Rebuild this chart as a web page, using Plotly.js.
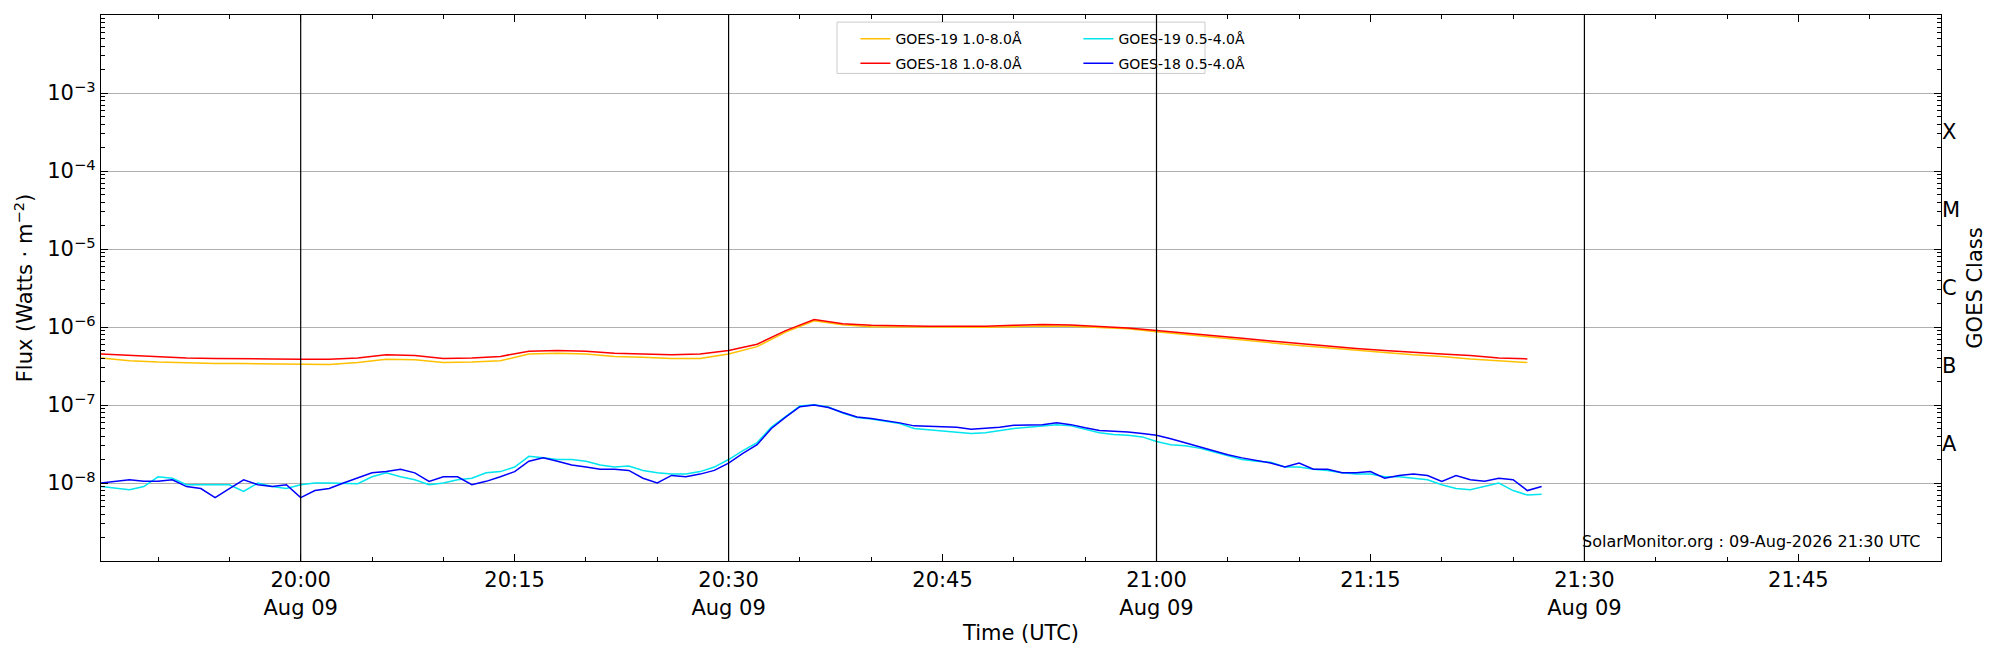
<!DOCTYPE html>
<html>
<head>
<meta charset="utf-8">
<script src="https://cdn.plot.ly/plotly-3.0.1.min.js"></script>
<style>body{margin:0;background:#fff}#plot{width:2000px;height:650px}</style>
</head>
<body>
<div id="plot"></div>
<script>
// 1-8 A channels, 2-minute samples from 19:46 (x 1e-7 W/m^2)
const goes18Long = [4.5,4.3,4.1,4.0,3.95,3.95,3.9,
  3.85,3.85,4.0,4.4,4.3,3.95,4.0,4.2,4.9,5.0,
  4.9,4.6,4.5,4.4,4.5,5.0,6.0,9.0,12.5,11.0,
  10.5,10.3,10.2,10.2,10.2,10.5,10.8,10.6,10.1,9.7,
  9.0,8.4,7.8,7.2,6.6,6.1,5.7,5.3,5.0,4.7,4.5,4.3,4.0,3.9];
const goes19Long = [4.0,3.7,3.55,3.45,3.4,3.4,3.35,
  3.3,3.3,3.5,3.85,3.8,3.5,3.55,3.7,4.5,4.6,
  4.5,4.2,4.1,3.95,3.95,4.5,5.6,8.6,12.0,10.7,
  10.1,10.0,9.9,9.9,9.9,10.1,10.3,10.2,9.8,9.5,
  8.7,8.0,7.4,6.8,6.2,5.8,5.4,5.0,4.7,4.4,4.2,3.9,3.7,3.5];
// 0.5-4 A channels, 1-minute samples from 19:46 (x 1e-9 W/m^2)
const goes18Short = [10,10.5,11,10.5,10.5,11,9,8.5,6.5,8.5,11,9.5,9,9.5,
  6.5,8,8.5,10,11.5,13.5,14,15,13.5,10.5,12,12,9.5,10.5,12,14,19,21,19,17,16,15,15,14.5,11.5,10,12.5,12,13,14.5,
  18,24,31,50,70,95,100,93,80,70,67,63,59,54,53,52,52,49,50,52,55,56,56,59,56,51,47,46,45,43,
  41,37,33,29,26,23,21,19.5,18,16,18,15,15,13.5,13.5,14,11.5,12.5,13,12.5,10.5,12.5,11,10.5,11.5,11,8,9];
const goes19Short = [9,8.5,8.2,9,12,11.5,9.5,9.5,9.5,9.5,7.8,10,9,8.5,
  9.5,10,10,10,9.8,12,13.5,12,11,9.5,10,11,11.5,13.5,14,16,22,21,20,20,19,17,16,16.5,14.5,13.5,13,13,14,16,
  20,26,33,52,72,97,101,94,79,69,66,62,58,50,48,47,45,43,44,47,50,52,54,56,54,49,44,42,41,39,
  34,31,30,28,25,22,20,19,18.5,16,16,15,14.5,13.5,13,13,12,12,11.5,11,9.5,8.5,8.2,9,10,8,7,7.2];
const classLabels = ['A','B','C','M','X'];
const classLevels = [-7.5,-6.5,-5.5,-4.5,-3.5];
const decades = [-8,-7,-6,-5,-4,-3];

function times(n, stepMin) {
  const out = [];
  const t0 = Date.UTC(2026,7,9,19,46);
  for (let i = 0; i < n; i++) out.push(new Date(t0 + i*stepMin*60000).toISOString().slice(0,19).replace('T',' '));
  return out;
}
const tLong = times(goes18Long.length, 2);
const tShort = times(goes18Short.length, 1);

const data = [
  {x: tLong, y: goes19Long.map(v => v*1e-7), name: 'GOES-19 1.0-8.0Å', mode: 'lines', line: {color: '#ffc000', width: 1.5}},
  {x: tShort, y: goes19Short.map(v => v*1e-9), name: 'GOES-19 0.5-4.0Å', mode: 'lines', line: {color: '#00e5ee', width: 1.5}},
  {x: tLong, y: goes18Long.map(v => v*1e-7), name: 'GOES-18 1.0-8.0Å', mode: 'lines', line: {color: '#ff0000', width: 1.5}, legend: 'legend2'},
  {x: tShort, y: goes18Short.map(v => v*1e-9), name: 'GOES-18 0.5-4.0Å', mode: 'lines', line: {color: '#0000ff', width: 1.5}, legend: 'legend2'},
  {x: [tShort[0]], y: [1e-5], yaxis: 'y2', showlegend: false, mode: 'markers', marker: {opacity: 0}, hoverinfo: 'skip'}
];

const vlines = ['20:00','20:30','21:00','21:30'].map(h => ({
  type: 'line', xref: 'x', yref: 'paper', x0: '2026-08-09 ' + h, x1: '2026-08-09 ' + h, y0: 0, y1: 1,
  line: {color: 'black', width: 1.2}
}));
vlines.push({type: 'rect', xref: 'paper', yref: 'paper', x0: 0.4, x1: 0.6, y0: 0.893, y1: 0.987,
  line: {color: '#cccccc', width: 1}, fillcolor: 'rgba(255,255,255,0.8)', layer: 'below'});

const tickTimes = ['20:00','20:15','20:30','20:45','21:00','21:15','21:30','21:45'];
const font = {family: 'DejaVu Sans', color: 'black'};
const layout = {
  width: 2000, height: 650,
  margin: {l: 101, r: 59, t: 15, b: 89},
  paper_bgcolor: 'white', plot_bgcolor: 'white',
  font: Object.assign({size: 21}, font),
  xaxis: {
    type: 'date', range: ['2026-08-09 19:46', '2026-08-09 21:55'],
    tickvals: tickTimes.map(t => '2026-08-09 ' + t),
    ticktext: tickTimes.map(t => t.endsWith(':00') || t.endsWith(':30') ? t + '<br>Aug 09' : t),
    ticks: 'inside', ticklen: 7, tickcolor: 'black', mirror: 'ticks', showline: true, linecolor: 'black', linewidth: 1.3,
    showgrid: false, zeroline: false,
    minor: {dtick: 300000, ticks: 'inside', ticklen: 4, tickcolor: 'black', showgrid: false},
    title: {text: 'Time (UTC)', font: {size: 21}, standoff: 6}
  },
  yaxis: {
    type: 'log', range: [-9, -2],
    tickvals: decades.map(d => Math.pow(10, d)),
    ticktext: decades.map(d => '10<sup>−' + (-d) + '</sup>'),
    ticks: 'inside', ticklen: 7, tickcolor: 'black', mirror: 'ticks', showline: true, linecolor: 'black', linewidth: 1.3,
    showgrid: true, gridcolor: '#b0b0b0', gridwidth: 1, zeroline: false,
    minor: {dtick: 'D1', ticks: 'inside', ticklen: 4, tickcolor: 'black', showgrid: false},
    title: {text: 'Flux (Watts · m<sup>−2</sup>)', font: {size: 21}, standoff: 8}
  },
  yaxis2: {
    type: 'log', range: [-9, -2], overlaying: 'y', side: 'right',
    tickvals: classLevels.map(d => Math.pow(10, d)), ticktext: classLabels,
    ticks: '', showgrid: false, zeroline: false, showline: false,
    title: {text: 'GOES Class', font: {size: 21}, standoff: 8}
  },
  shapes: vlines,
  legend: {orientation: 'h', x: 0.41, y: 0.985, xanchor: 'left', yanchor: 'top', entrywidth: 178,
    bgcolor: 'rgba(0,0,0,0)', font: Object.assign({size: 14}, font), tracegroupgap: 0},
  legend2: {orientation: 'h', x: 0.41, y: 0.94, xanchor: 'left', yanchor: 'top', entrywidth: 178,
    bgcolor: 'rgba(0,0,0,0)', font: Object.assign({size: 14}, font)},
  annotations: [{xref: 'paper', yref: 'paper', x: 0.99, y: 0.015, xanchor: 'right', yanchor: 'bottom',
    text: 'SolarMonitor.org : 09-Aug-2026 21:30 UTC', showarrow: false, font: Object.assign({size: 16}, font)}],
  showlegend: true
};
Plotly.newPlot('plot', data, layout, {displayModeBar: false});
</script>
</body>
</html>
